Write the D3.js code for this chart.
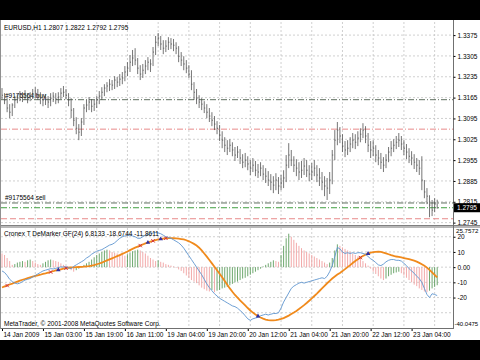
<!DOCTYPE html>
<html>
<head>
<meta charset="utf-8">
<script src="https://cdn.jsdelivr.net/npm/d3@7"></script>
<style>
body { margin: 0; background: #000; }
svg { display: block; }
text { font-family: "Liberation Sans", Arial, sans-serif; font-size: 6.5px; fill: #000; }
</style>
</head>
<body>
<svg id="chart" width="480" height="360"></svg>
<script>
// EURUSD H1 bars
const highs = [
  1.3197,1.3180,1.3163,1.3143,1.3146,1.3170,1.3177,1.3187,1.3183,1.3190,
  1.3180,1.3183,1.3194,1.3200,1.3194,1.3183,1.3173,1.3177,1.3170,1.3180,
  1.3183,1.3180,1.3183,1.3197,1.3204,1.3194,1.3180,1.3163,1.3130,1.3099,
  1.3076,1.3096,1.3143,1.3157,1.3167,1.3160,1.3157,1.3170,1.3187,1.3200,
  1.3210,1.3217,1.3227,1.3224,1.3237,1.3234,1.3244,1.3251,1.3271,1.3284,
  1.3308,1.3325,1.3331,1.3298,1.3274,1.3278,1.3291,1.3301,1.3294,1.3335,
  1.3372,1.3382,1.3372,1.3358,1.3358,1.3368,1.3365,1.3362,1.3351,1.3338,
  1.3318,1.3304,1.3291,1.3274,1.3257,1.3217,1.3194,1.3173,1.3163,1.3153,
  1.3143,1.3130,1.3116,1.3103,1.3086,1.3073,1.3052,1.3032,1.3022,1.3025,
  1.3015,1.2999,1.3002,1.2992,1.2975,1.2979,1.2968,1.2955,1.2962,1.2952,
  1.2942,1.2948,1.2938,1.2928,1.2918,1.2908,1.2901,1.2911,1.2898,1.2905,
  1.2921,1.2972,1.3012,1.2989,1.2968,1.2958,1.2948,1.2952,1.2962,1.2955,
  1.2938,1.2945,1.2955,1.2938,1.2928,1.2915,1.2901,1.2895,1.2915,1.2989,
  1.3056,1.3083,1.3066,1.3042,1.3019,1.3022,1.3032,1.3046,1.3042,1.3052,
  1.3062,1.3079,1.3069,1.3046,1.3019,1.3022,1.3005,1.2989,1.2979,1.2965,
  1.2975,1.2999,1.3019,1.3025,1.3036,1.3046,1.3036,1.3022,1.3009,1.2995,
  1.2985,1.2975,1.2962,1.2955,1.2968,1.2888,1.2861,1.2837,1.2821,1.2827,
  1.2822];
const lows = [
  1.3160,1.3143,1.3116,1.3096,1.3103,1.3130,1.3146,1.3153,1.3150,1.3157,
  1.3146,1.3153,1.3160,1.3163,1.3157,1.3143,1.3136,1.3140,1.3130,1.3136,
  1.3150,1.3143,1.3146,1.3160,1.3167,1.3160,1.3136,1.3096,1.3069,1.3042,
  1.3022,1.3036,1.3073,1.3116,1.3123,1.3116,1.3120,1.3130,1.3143,1.3157,
  1.3170,1.3183,1.3187,1.3190,1.3194,1.3200,1.3204,1.3210,1.3220,1.3237,
  1.3251,1.3271,1.3274,1.3244,1.3224,1.3231,1.3244,1.3257,1.3251,1.3271,
  1.3308,1.3338,1.3325,1.3311,1.3318,1.3325,1.3328,1.3321,1.3311,1.3284,
  1.3271,1.3257,1.3247,1.3231,1.3190,1.3157,1.3143,1.3130,1.3123,1.3113,
  1.3096,1.3083,1.3069,1.3056,1.3042,1.3019,1.2995,1.2982,1.2972,1.2982,
  1.2968,1.2952,1.2962,1.2942,1.2928,1.2931,1.2921,1.2905,1.2915,1.2901,
  1.2895,1.2901,1.2888,1.2878,1.2868,1.2854,1.2844,1.2854,1.2841,1.2854,
  1.2861,1.2881,1.2928,1.2935,1.2915,1.2901,1.2888,1.2895,1.2905,1.2898,
  1.2884,1.2888,1.2901,1.2881,1.2868,1.2854,1.2834,1.2821,1.2841,1.2874,
  1.2955,1.3005,1.3012,1.2982,1.2965,1.2972,1.2982,1.2995,1.2992,1.3002,
  1.3015,1.3029,1.3012,1.2982,1.2962,1.2968,1.2948,1.2938,1.2925,1.2915,
  1.2928,1.2948,1.2968,1.2982,1.2992,1.2999,1.2989,1.2972,1.2958,1.2945,
  1.2938,1.2925,1.2915,1.2905,1.2854,1.2827,1.2807,1.2763,1.2767,1.2780,
  1.2792];
const closes = [
  1.3173,1.3157,1.3130,1.3116,1.3140,1.3157,1.3163,1.3170,1.3167,1.3173,
  1.3163,1.3170,1.3177,1.3180,1.3173,1.3163,1.3157,1.3160,1.3150,1.3163,
  1.3170,1.3160,1.3167,1.3180,1.3183,1.3173,1.3157,1.3123,1.3089,1.3062,
  1.3049,1.3083,1.3130,1.3140,1.3150,1.3136,1.3143,1.3157,1.3170,1.3183,
  1.3197,1.3204,1.3210,1.3207,1.3224,1.3217,1.3227,1.3231,1.3251,1.3264,
  1.3284,1.3298,1.3291,1.3264,1.3244,1.3257,1.3271,1.3284,1.3278,1.3318,
  1.3351,1.3365,1.3345,1.3331,1.3338,1.3351,1.3345,1.3341,1.3331,1.3304,
  1.3291,1.3278,1.3264,1.3244,1.3210,1.3183,1.3163,1.3150,1.3143,1.3130,
  1.3116,1.3103,1.3089,1.3076,1.3062,1.3039,1.3022,1.3005,1.2995,1.3005,
  1.2989,1.2972,1.2982,1.2962,1.2948,1.2955,1.2942,1.2928,1.2938,1.2921,
  1.2915,1.2928,1.2908,1.2901,1.2888,1.2881,1.2871,1.2888,1.2868,1.2878,
  1.2895,1.2938,1.2972,1.2955,1.2938,1.2928,1.2915,1.2921,1.2935,1.2921,
  1.2908,1.2915,1.2928,1.2905,1.2895,1.2881,1.2868,1.2861,1.2888,1.2972,
  1.3022,1.3056,1.3036,1.3002,1.2989,1.2995,1.3009,1.3022,1.3015,1.3029,
  1.3042,1.3056,1.3036,1.3005,1.2989,1.2995,1.2972,1.2962,1.2948,1.2938,
  1.2955,1.2982,1.2995,1.3005,1.3015,1.3022,1.3009,1.2995,1.2982,1.2968,
  1.2962,1.2948,1.2938,1.2928,1.2888,1.2848,1.2834,1.2804,1.2787,1.2807,
  1.2795];

// Cronex T DeMarker GF(24)
const demarker = [
  -2.5,-3.5,-5.5,-8,-9.5,-10.5,-11,-10.5,-9.5,-8.5,
  -8,-7.5,-6.5,-5.5,-4.5,-3.5,-2.5,-2,-1.5,-1,
  -1.2,-0.8,-0.3,0.2,0,0.3,-0.5,-1,0.5,1.5,
  2.5,3.5,4.5,6,7,8.5,9.5,10.5,11,11.5,
  12.5,13.5,14.5,15,16,17.5,19,20,20.5,21,
  21,20.5,20,19,19,20,21,21.5,22,22.5,
  22.8,22.5,22,21,20,19.5,19,18,17,16,
  14.5,12.5,10,7.5,5,2.5,0,-2.5,-5,-8,
  -11,-13.5,-15.5,-17.5,-19,-20.5,-21.5,-22.5,-23.5,-24.5,
  -25.5,-26,-27,-28.5,-30,-32,-34,-35,-34,-33.5,
  -33,-32,-31.5,-31,-31.5,-31,-30.5,-30.5,-30,-27,
  -23,-20,-17,-14,-12.5,-11.5,-10.5,-10,-10.5,-10,
  -9.5,-9,-8.5,-8,-7.5,-7,-7.5,-6,-3,1,
  7,13,12,10,9,9.5,9,9.5,9,9.5,
  9.5,9,8.5,7,5.5,4.5,3,1.5,1,2,
  3.5,4.5,5,5,4.5,4.5,4,2.5,1,-1,
  -2.5,-4,-6,-7.5,-10,-14,-18,-20,-17.5,-18,
  -18.7];
const signal = [
  -13.4,-12.7,-12.1,-11.4,-10.8,-10.1,-9.5,-8.9,-8.3,-7.8,
  -7.3,-6.8,-6.3,-5.8,-5.4,-5.0,-4.5,-4.1,-3.6,-3.2,
  -2.7,-2.2,-1.8,-1.4,-1.0,-0.7,-0.4,-0.2,-0.1,0.0,
  0.1,0.2,0.3,0.5,0.7,1.0,1.4,1.9,2.4,3.0,
  3.7,4.4,5.1,5.8,6.5,7.2,7.9,8.7,9.5,10.3,
  11.2,12.0,12.8,13.5,14.2,14.9,15.6,16.2,16.8,17.3,
  17.8,18.2,18.5,18.8,19.0,19.1,19.1,19.0,18.9,18.7,
  18.5,18.2,17.7,17.0,16.2,15.3,14.2,12.8,11.0,9.0,
  6.9,4.7,2.5,0.3,-2.0,-4.3,-6.7,-9.1,-11.6,-14.0,
  -16.2,-18.3,-20.1,-21.9,-23.5,-25.2,-26.9,-28.5,-29.9,-31.1,
  -32.2,-33.1,-33.9,-34.5,-34.9,-35.0,-35.0,-34.9,-34.6,-34.1,
  -33.5,-32.7,-31.9,-30.9,-29.9,-28.8,-27.6,-26.3,-25.0,-23.6,
  -22.1,-20.6,-19.0,-17.4,-15.7,-14.0,-12.3,-10.6,-9.0,-7.5,
  -6.2,-4.9,-3.8,-2.6,-1.3,0.0,1.3,2.7,4.0,5.2,
  6.3,7.3,8.2,8.9,9.5,9.9,10.1,10.2,10.0,9.6,
  9.1,8.5,7.9,7.4,7.0,6.7,6.4,6.0,5.6,5.2,
  4.8,4.3,3.6,2.8,1.9,0.9,-0.3,-1.8,-3.4,-5.1,
  -6.8];
const histo = [
  9,8,6,4,1.5,2,3,3.5,4,3.5,
  4.5,5,4,3,2,1.5,2.5,3.5,4.5,5,
  4.5,4,3.5,2.5,1.5,0.5,-1,-2,-3,-2,
  -1,0.5,1.5,2.5,3.5,5,6.5,8,9,10,
  11,11.5,11,10,9.5,9,8.5,8,7.5,8.5,
  9.5,10.5,11,11.5,11,10,9,7.5,6,5,
  4,4.5,3.5,3,2,1.5,1,0.5,-0.5,-1.5,
  -2.5,-4,-5.5,-7,-8.5,-9.5,-10.5,-12,-13.5,-14.5,
  -15.5,-16,-15,-16.5,-15.5,-15,-14,-13.5,-13,-12,
  -11,-10,-9.5,-8.5,-7.5,-7,-6,-5,-4,-3,
  -2,-1,0.5,1.5,2.5,3.5,4.5,4,3.5,8,
  14,19,22,20,18,16,14,12.5,11,10,
  9,8,7,6,5,4,3,2,3,6,
  11,15,14,13,12,11,10,9,8,7,
  6,4,2.5,1,-1,-3,-4.5,-6,-7.5,-8.5,
  -7.5,-6,-5,-4,-3.5,-3,-4,-5.5,-7,-8.5,
  -10,-11.5,-12.5,-14,-15,-16,-16.5,-15.5,-14,-13,
  -11.9];
const upSignals = [22, 57, 62, 100, 143];
const downSignals = [2, 19, 25, 54, 59, 64, 140];

// axes
const timeIdx = [0, 16, 32, 48, 64, 80, 96, 112, 128, 144, 160];
const timeLabels = ["14 Jan 2009", "15 Jan 03:00", "15 Jan 19:00", "16 Jan 11:00", "19 Jan 04:00",
  "19 Jan 20:00", "20 Jan 12:00", "21 Jan 04:00", "21 Jan 20:00", "22 Jan 12:00", "23 Jan 04:00"];
const priceTicks = [1.3375, 1.3305, 1.3235, 1.3165, 1.3095, 1.3025, 1.2955, 1.2885, 1.2815, 1.2745];
const indTicks = [20, 10, 0, -10, -20, -30];

// order lines
const buyPrice = 1.3158, buyTp = 1.3059, sellPrice = 1.2811, sellSl = 1.2758, bidPrice = 1.2795;

const svg = d3.select("#chart");
const W = 480, axisX = 453;

const x = d3.scaleLinear().domain([0, 170]).range([2, 437.2]);
const yP = d3.scaleLinear().domain([1.2737, 1.3419]).range([225, 22]);
const yI = d3.scaleLinear().domain([-40.0475, 25.7572]).range([328, 228]);

svg.append("rect").attr("width", W).attr("height", 360).attr("fill", "#000");
svg.append("rect").attr("y", 20).attr("width", W).attr("height", 320).attr("fill", "#fff");

// grid
const grid = svg.append("g").attr("stroke", "#c4c4c4").attr("stroke-dasharray", "2,2").attr("stroke-width", 0.8);
d3.range(13, 171, 12).forEach(i => {
  [[22, 225], [228, 328]].forEach(([a, b]) => {
    grid.append("line").attr("x1", x(i)).attr("x2", x(i)).attr("y1", a).attr("y2", b);
  });
});
priceTicks.forEach(p => grid.append("line").attr("x1", 1).attr("x2", axisX)
  .attr("y1", yP(p)).attr("y2", yP(p)));
indTicks.forEach(v => grid.append("line").attr("x1", 1).attr("x2", axisX)
  .attr("y1", yI(v)).attr("y2", yI(v)));

// order lines
function hline(price, color, dash) {
  svg.append("line").attr("x1", 1).attr("x2", axisX).attr("y1", yP(price)).attr("y2", yP(price))
    .attr("stroke", color).attr("stroke-width", 1).attr("stroke-dasharray", dash);
}
hline(buyPrice, "#5f6f5f", "6,2,1,2");
hline(buyTp, "#e88a8a", "6,2,1,2");
hline(sellPrice, "#5f6f5f", "6,2,1,2");
hline(bidPrice, "#3f9f3f", "6,2,1,2");
hline(sellSl, "#e88a8a", "6,3");
svg.append("text").attr("x", 5).attr("y", yP(buyPrice) - 2).text("#9175564 buy");
svg.append("text").attr("x", 5).attr("y", yP(sellPrice) - 3).text("#9175564 sell");

// price bars
const bars = svg.append("g").attr("stroke", "#484848").attr("stroke-width", 0.75);
closes.forEach((c, i) => {
  bars.append("line").attr("x1", x(i)).attr("x2", x(i)).attr("y1", yP(highs[i])).attr("y2", yP(lows[i]));
  bars.append("line").attr("x1", x(i)).attr("x2", x(i) + 1).attr("y1", yP(c)).attr("y2", yP(c));
});

// indicator histogram
const hist = svg.append("g").attr("stroke-width", 0.9);
histo.forEach((h, i) => {
  const up = i > 0 && h > histo[i - 1];
  hist.append("line").attr("x1", x(i)).attr("x2", x(i)).attr("y1", yI(0)).attr("y2", yI(h))
    .attr("stroke", up ? "#5e9e5e" : "#f0a0a0");
});

const line = d3.line().x((d, i) => x(i)).y(d => yI(d));
svg.append("path").attr("d", line(signal)).attr("fill", "none")
  .attr("stroke", "#f08a1c").attr("stroke-width", 1.8);
svg.append("path").attr("d", line(demarker)).attr("fill", "none")
  .attr("stroke", "#5f95cf").attr("stroke-width", 0.9);

upSignals.forEach(i => {
  svg.append("path").attr("d", d3.symbol(d3.symbolTriangle, 9)())
    .attr("transform", `translate(${x(i)},${yI(signal[i])})`).attr("fill", "#3030a0");
});
downSignals.forEach(i => {
  svg.append("path").attr("d", d3.symbol(d3.symbolX, 9)())
    .attr("transform", `translate(${x(i)},${yI(signal[i])})`).attr("stroke", "#d03040").attr("stroke-width", 1);
});

// frames
svg.append("rect").attr("x", 0).attr("y", 225).attr("width", W).attr("height", 3).attr("fill", "#b8b8b8");
svg.append("line").attr("x1", 0).attr("x2", W).attr("y1", 225.5).attr("y2", 225.5).attr("stroke", "#808080");
svg.append("line").attr("x1", 0).attr("x2", axisX).attr("y1", 328.5).attr("y2", 328.5).attr("stroke", "#707070");
svg.append("line").attr("x1", axisX + 0.5).attr("x2", axisX + 0.5).attr("y1", 20).attr("y2", 329).attr("stroke", "#707070");
svg.append("line").attr("x1", 0.5).attr("x2", 0.5).attr("y1", 20).attr("y2", 329).attr("stroke", "#909090");

// price axis
const pAxis = svg.append("g").attr("transform", `translate(${axisX + 0.5},0)`)
  .call(d3.axisRight(yP).tickValues(priceTicks).tickFormat(d3.format(".4f")).tickSize(2).tickPadding(2));
pAxis.select(".domain").remove();
pAxis.selectAll("text").style("font-size", "6.5px").style("font-family", "Liberation Sans, Arial");

const bidY = yP(bidPrice);
svg.append("rect").attr("x", axisX + 1).attr("y", bidY - 4.5).attr("width", 26).attr("height", 9).attr("fill", "#000");
svg.append("text").attr("x", axisX + 4).attr("y", bidY + 2.3).style("fill", "#fff").text("1.2795");

// indicator axis
const iAxis = svg.append("g").attr("transform", `translate(${axisX + 0.5},0)`)
  .call(d3.axisRight(yI).tickValues([20, 10, 0, -10, -20])
    .tickFormat(d => d === 0 ? "0.00" : d).tickSize(2).tickPadding(2));
iAxis.select(".domain").remove();
iAxis.selectAll("text").style("font-size", "6.5px").style("font-family", "Liberation Sans, Arial");
svg.append("text").attr("x", axisX + 3).attr("y", 232.5).style("font-size", "6.2px").text("25.7572");
svg.append("text").attr("x", axisX + 1.5).attr("y", 325.5).style("font-size", "6px").text("-40.0475");

// time axis
const tAxis = svg.append("g").attr("transform", "translate(0,329)")
  .call(d3.axisBottom(x).tickValues(timeIdx).tickFormat((d, i) => timeLabels[i]).tickSize(2).tickPadding(1));
tAxis.select(".domain").remove();
tAxis.selectAll("text").attr("text-anchor", "start").attr("dx", 1)
  .style("font-size", "6.5px").style("font-family", "Liberation Sans, Arial");

// titles
svg.append("text").attr("x", 4).attr("y", 30).text("EURUSD,H1  1.2807 1.2822 1.2792 1.2795");
svg.append("text").attr("x", 4).attr("y", 236).text("Cronex T DeMarker GF(24) 6.8133 -18.6744 -11.8611");
svg.append("text").attr("x", 4).attr("y", 326).text("MetaTrader, © 2001-2008 MetaQuotes Software Corp.");
</script>
</body>
</html>
